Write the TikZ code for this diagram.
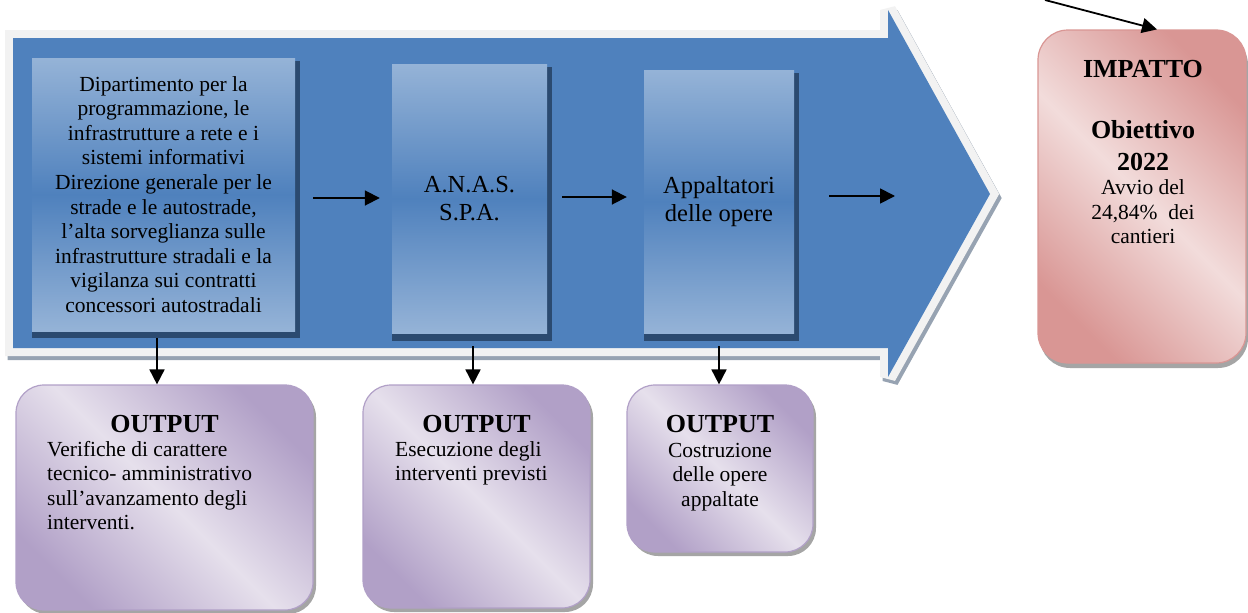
\documentclass[tikz,border=0pt]{standalone}
\usepackage{fontspec}
\setmainfont{Liberation Serif}
\usetikzlibrary{arrows.meta,calc,shadows}
\definecolor{arrowblue}{HTML}{4F81BD}
\definecolor{boxlight}{HTML}{95B3D7}
\definecolor{boxshadow}{HTML}{2B4A70}
\definecolor{rimgrey}{HTML}{F2F2F2}
\definecolor{rimshadow}{HTML}{97A3B2}
\definecolor{purplelight}{HTML}{E6E0EC}
\definecolor{purpledark}{HTML}{B1A0C7}
\definecolor{pinklight}{HTML}{F2DCDB}
\definecolor{pinkdark}{HTML}{D99694}
\definecolor{dropgrey}{HTML}{8E8E8E}
\pgfdeclarelayer{bg}\pgfdeclarelayer{sh}
\pgfsetlayers{bg,sh,main}
\begin{document}
\begin{tikzpicture}[x=1pt,y=-1pt,
  body/.style={font=\fontsize{21.5pt}{24.6pt}\selectfont},
  actor/.style={rectangle, inner sep=0pt, align=center,
    top color=boxlight, bottom color=boxlight, middle color=arrowblue},
  bigtxt/.style={font=\fontsize{24.5pt}{28.5pt}\selectfont},
  outbox/.style={rectangle, rounded corners=28pt, draw=purpledark, line width=1.2pt,
    top color=purpledark, bottom color=purpledark, middle color=purplelight, shading angle=-45,
    drop shadow={shadow xshift=3pt, shadow yshift=-4pt, fill=dropgrey, opacity=0.8}},
  impbox/.style={rectangle, rounded corners=30pt, draw=pinkdark, line width=1.2pt,
    top color=pinkdark, bottom color=pinkdark, middle color=pinklight, shading angle=-45,
    drop shadow={shadow xshift=2pt, shadow yshift=-5pt, fill=dropgrey, opacity=0.8}},
  ttl/.style={font=\fontsize{26pt}{32pt}\selectfont\bfseries, inner sep=0pt},
  txt/.style={font=\fontsize{21.5pt}{24.5pt}\selectfont, inner sep=0pt},
  arr/.style={line width=1.8pt, -{Triangle[length=15pt,width=15pt]}}
]
\useasboundingbox (0,0) rectangle (1248,613);

% big process arrow
\begin{pgfonlayer}{bg}
  \path[draw=rimshadow, fill=rimshadow, line width=16pt, miter limit=1.5, shift={(2.5,4)}]
    (13,38) -- (888,38) -- (888,10) -- (990,194) -- (888,377) -- (888,348) -- (13,348) -- cycle;
  \path[draw=rimgrey, line width=16pt, miter limit=1.5]
    (13,38) -- (888,38) -- (888,10) -- (990,194) -- (888,377) -- (888,348) -- (13,348) -- cycle;
  \fill[arrowblue]
    (13,38) -- (888,38) -- (888,10) -- (990,194) -- (888,377) -- (888,348) -- (13,348) -- cycle;
\end{pgfonlayer}

% actors
\node[actor, body, minimum width=263pt, minimum height=273pt] (b1) at (163.5,194.5)
  {Dipartimento per la\\programmazione, le\\infrastrutture a rete e i\\sistemi informativi\\Direzione generale per le\\strade e le autostrade,\\l’alta sorveglianza sulle\\infrastrutture stradali e la\\vigilanza sui contratti\\concessori autostradali};
\node[actor, bigtxt, minimum width=155pt, minimum height=269pt] (b2) at (469.5,198.5)
  {A.N.A.S.\\S.P.A.};
\node[actor, bigtxt, minimum width=150pt, minimum height=263pt] (b3) at (719,201.5)
  {Appaltatori\\delle opere};

\begin{pgfonlayer}{sh}
  \fill[boxshadow] ([yshift=-7pt]b1.south west) rectangle ([xshift=4.5pt,yshift=-3pt]b1.north east);
  \fill[boxshadow] ([yshift=-8pt]b2.south west) rectangle ([xshift=5pt,yshift=-3pt]b2.north east);
  \fill[boxshadow] ([yshift=-8pt]b3.south west) rectangle ([xshift=5pt,yshift=-3pt]b3.north east);
\end{pgfonlayer}

% outputs
\node[outbox, minimum width=297pt, minimum height=225pt] (o1) at (164.5,497.5) {};
\node[outbox, minimum width=227pt, minimum height=223pt] (o2) at (476.5,496.5) {};
\node[outbox, minimum width=186pt, minimum height=167pt] (o3) at (720,468.5) {};

\node[ttl, anchor=base] (o1h) at (164.5,432) {OUTPUT};
\node[txt, anchor=base west, align=left] (o1b) at (47,529.5)
  {Verifiche di carattere\\tecnico- amministrativo\\sull’avanzamento degli\\interventi.};
\node[ttl, anchor=base] (o2h) at (476.5,432) {OUTPUT};
\node[txt, anchor=base west, align=left] (o2b) at (395,480.5)
  {Esecuzione degli\\interventi previsti};
\node[ttl, anchor=base] (o3h) at (720,432) {OUTPUT};
\node[txt, anchor=base, align=center] (o3b) at (720,506)
  {Costruzione\\delle opere\\appaltate};

% impact
\node[impbox, minimum width=208pt, minimum height=333pt] (imp) at (1142,196.5) {};
\node[ttl, anchor=base] (imph) at (1143,77) {IMPATTO};
\node[ttl, anchor=base, align=center] (impo) at (1143,170) {Obiettivo\\2022};
\node[txt, anchor=base, align=center] (impt) at (1143,243.5) {Avvio del\\24,84\%\ \ dei\\cantieri};

% connectors
\coordinate (a3end) at (895,196);
\coordinate (topstart) at (1045,0);
\draw[arr, shorten <=18pt, shorten >=12pt] ([yshift=-3.5pt]b1.east) -- ([yshift=-3.5pt]b1.east -| b2.west);
\draw[arr, shorten <=15pt, shorten >=17pt] ([yshift=1.5pt]b2.east) -- ([yshift=1.5pt]b2.east -| b3.west);
\draw[arr, shorten <=35pt] ([yshift=5.5pt]b3.east) -- (a3end);
\draw[arr, shorten <=7pt] ([xshift=-6.5pt]b1.south) -- ([xshift=-6.5pt]b1.south |- o1.north);
\draw[arr, shorten <=13pt] ([xshift=3.5pt]b2.south) -- ([xshift=3.5pt]b2.south |- o2.north);
\draw[arr, shorten <=13pt] (b3.south) -- (b3.south |- o3.north);
\draw[arr] (topstart) -- ([xshift=15pt]imp.north);
\end{tikzpicture}
\end{document}
